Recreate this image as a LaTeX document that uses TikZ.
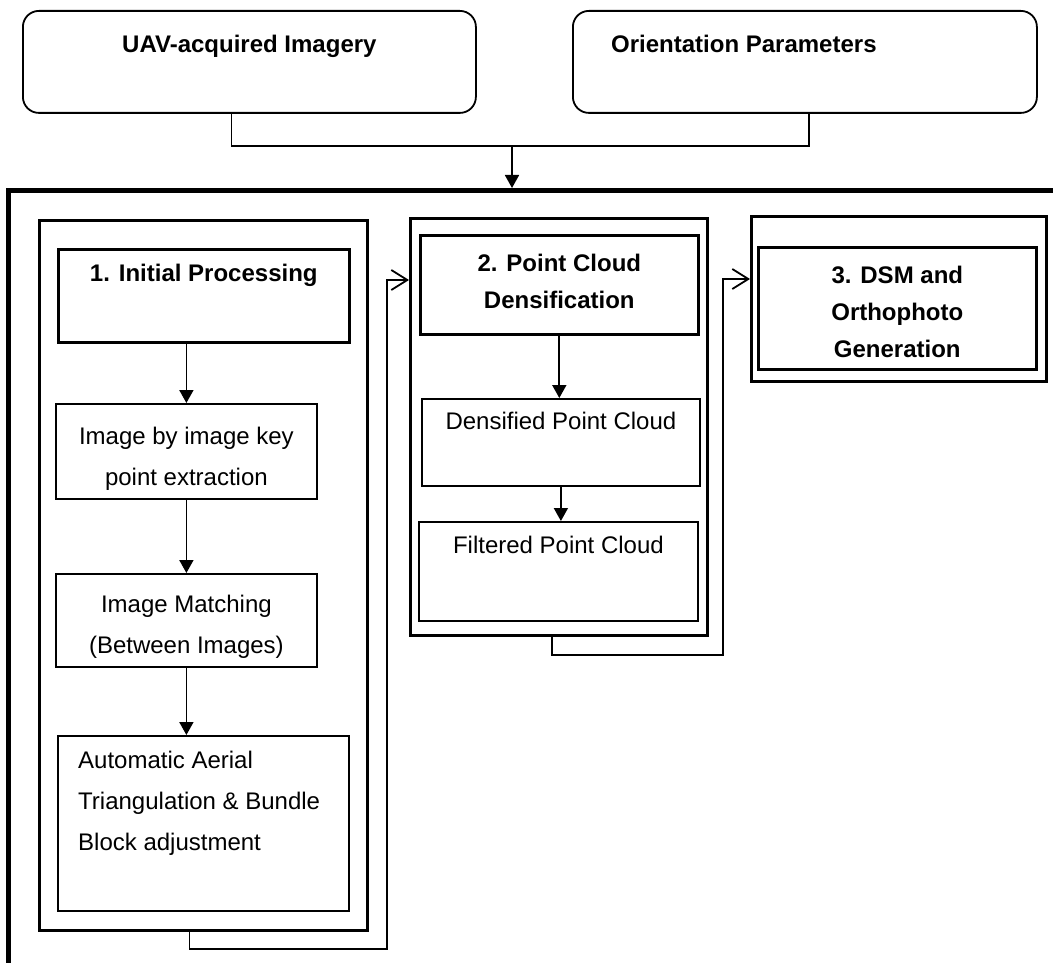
\documentclass[tikz,border=0pt]{standalone}
\usepackage{fontspec}
\setmainfont{Liberation Sans}
\usetikzlibrary{arrows.meta,positioning}

\begin{document}
\begin{tikzpicture}[x=1pt, y=-1pt, >={Triangle[length=13pt,width=14pt]},
    plain/.style={line width=1.8pt},
    inbox/.style={draw, plain, rectangle, anchor=north west, inner sep=0pt},
    headbox/.style={inbox, line width=2.6pt},
    column/.style={inbox, line width=3pt},
    srcbox/.style={inbox, rounded corners=16pt},
    txt/.style={inner sep=0pt, align=center, font=\fontsize{24}{41}\selectfont},
    head/.style={txt, font=\fontsize{24}{37}\selectfont\bfseries},
    barb/.style={-{Straight Barb[length=16pt,width=20pt,line width=1.8pt]}}]
    \useasboundingbox (0,0) rectangle (1053,963);
    \clip (0,0) rectangle (1053,963);

    % Inputs
    \node [srcbox, minimum width=453pt, minimum height=102pt] (uav)    at (22,10)  {};
    \node [srcbox, minimum width=464pt, minimum height=102pt] (orient) at (572,10) {};
    \node [head, anchor=north]      at ([yshift=-25pt]uav.north) {UAV-acquired Imagery};
    \node [head, anchor=north west] at ([xshift=39pt,yshift=-25pt]orient.north west) {Orientation Parameters};

    % Outer frame
    \node [inbox, line width=5pt, minimum width=1100pt, minimum height=820pt] (frame) at (6,188) {};

    % Column 1
    \node [column,  minimum width=328pt, minimum height=710pt] (col1)   at (38,219)  {};
    \node [headbox, minimum width=291pt, minimum height=93pt]  (init)   at (57,248)  {};
    \node [inbox,   minimum width=261pt, minimum height=95pt]  (keypt)  at (55,403)  {};
    \node [inbox,   minimum width=261pt, minimum height=93pt]  (match)  at (55,573)  {};
    \node [inbox,   minimum width=291pt, minimum height=175pt] (aat)    at (57,735)  {};
    \node [head, anchor=north] at ([yshift=-16pt]init.north)  {1. Initial Processing};
    \node [txt,  anchor=north] at ([yshift=-24pt]keypt.north) {Image by image key\\point extraction};
    \node [txt,  anchor=north] at ([yshift=-22pt]match.north) {Image Matching\\(Between Images)};
    \node [txt, anchor=north west, align=left] at ([xshift=21pt,yshift=-16pt]aat.north west)
        {Automatic Aerial\\Triangulation \& Bundle\\Block adjustment};

    % Column 2
    \node [column,  minimum width=297pt, minimum height=417pt] (col2)   at (409,217) {};
    \node [headbox, minimum width=278pt, minimum height=99pt]  (pcd)    at (419,234) {};
    \node [inbox,   minimum width=278pt, minimum height=87pt]  (dense)  at (421,398) {};
    \node [inbox,   minimum width=279pt, minimum height=99pt]  (filt)   at (418,521) {};
    \node [head, anchor=north] at ([yshift=-20pt]pcd.north)   {2. Point Cloud\\Densification};
    \node [txt,  anchor=north] at ([yshift=-14pt]dense.north) {Densified Point Cloud};
    \node [txt,  anchor=north] at ([yshift=-15pt]filt.north)  {Filtered Point Cloud};

    % Column 3
    \node [column,  minimum width=295pt, minimum height=165pt] (col3)   at (750,215) {};
    \node [headbox, minimum width=278pt, minimum height=122pt] (dsm)    at (757,246) {};
    \node [head, anchor=north] at ([yshift=-20pt]dsm.north) {3. DSM and\\Orthophoto\\Generation};

    % Paths
    \coordinate (join) at (512,146);
    \draw [plain] ([xshift=-18pt]uav.south) |- (join) -| ([xshift=4pt]orient.south);
    \draw [plain, ->] (join) -- (frame.north -| join);

    \draw [plain, ->] (init.south -| keypt.north) -- (keypt.north);
    \draw [plain, ->] (keypt.south) -- (match.north);
    \draw [plain, ->] (match.south) -- (match.south |- aat.north);

    \coordinate (up1) at (387,280);
    \draw [plain, barb] ([xshift=-14pt]col1.south) -- ++(0,17) -| (up1) -- (up1 -| col2.west);

    \draw [plain, ->] (pcd.south) -- (pcd.south |- dense.north);
    \draw [plain, ->] (dense.south) -- (dense.south |- filt.north);

    \coordinate (up2) at (723,279);
    \draw [plain, barb] ([xshift=-7pt]col2.south) -- ++(0,18) -| (up2) -- (up2 -| col3.west);

\end{tikzpicture}
\end{document}
